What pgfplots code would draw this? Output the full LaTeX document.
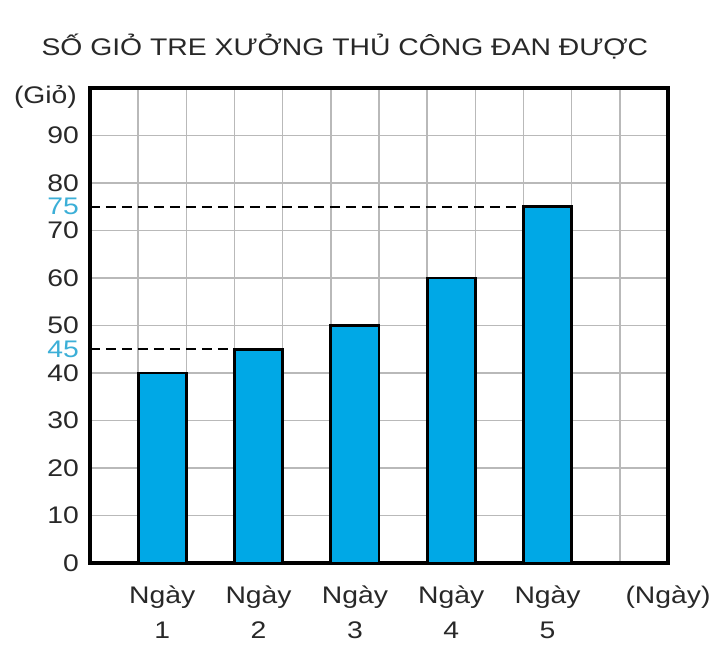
\documentclass[border=0pt]{standalone}
\usepackage{fontspec}
\setmainfont{Liberation Sans}[FakeStretch=1.18]
\usepackage{pgfplots}
\pgfplotsset{compat=1.18}
\definecolor{barblue}{RGB}{0,168,230}
\definecolor{markblue}{RGB}{60,175,215}
\definecolor{gridgray}{RGB}{185,185,185}
\definecolor{txt}{RGB}{40,40,40}

\begin{document}
\begin{tikzpicture}
\begin{axis}[
  scale only axis,
  clip=false,
  width=289pt, height=237.5pt,
  xmin=0, xmax=12, ymin=0, ymax=100,
  axis line style={line width=1.6pt, black},
  font=\fontsize{12}{17.5}\selectfont,
  /pgf/number format/assume math mode=true,
  xtick={1.5,3.5,5.5,7.5,9.5},
  xticklabels={Ngày\\1, Ngày\\2, Ngày\\3, Ngày\\4, Ngày\\5},
  x tick label style={align=center, color=txt, yshift=-8pt},
  minor xtick={1,...,11},
  xminorgrids,
  ytick={0,10,...,90},
  ymajorgrids,
  grid style={gridgray, line width=0.75pt},
  minor grid style={gridgray, line width=0.75pt},
  major tick length=0, minor tick length=0,
  y tick label style={color=txt, xshift=-2pt},
  extra y ticks={45,75},
  extra y tick labels={\textcolor{markblue}{45}, \textcolor{markblue}{75}},
  extra y tick style={grid=none},
  extra x ticks={12},
  extra x tick labels={(Ngày)},
  extra x tick style={grid=none},
]
\addplot[ybar, bar width=1, fill=barblue, draw=black, line width=1.4pt]
  coordinates {(1.5,40) (3.5,45) (5.5,50) (7.5,60) (9.5,75)};
\addplot[black, line width=0.8pt, dash pattern=on 5pt off 3pt] coordinates {(0,45) (3,45)};
\addplot[black, line width=0.8pt, dash pattern=on 5pt off 3pt] coordinates {(0,75) (9,75)};
\node[anchor=base, color=txt, yshift=16pt] at (rel axis cs:0.441,1) {SỐ GIỎ TRE XƯỞNG THỦ CÔNG ĐAN ĐƯỢC};
\node[anchor=base east, color=txt, xshift=-3pt, yshift=-8pt] at (rel axis cs:0,1) {(Giỏ)};
\end{axis}
\pgfresetboundingbox
\useasboundingbox (-45pt,-42pt) rectangle (315pt,281.5pt);
\end{tikzpicture}
\end{document}
